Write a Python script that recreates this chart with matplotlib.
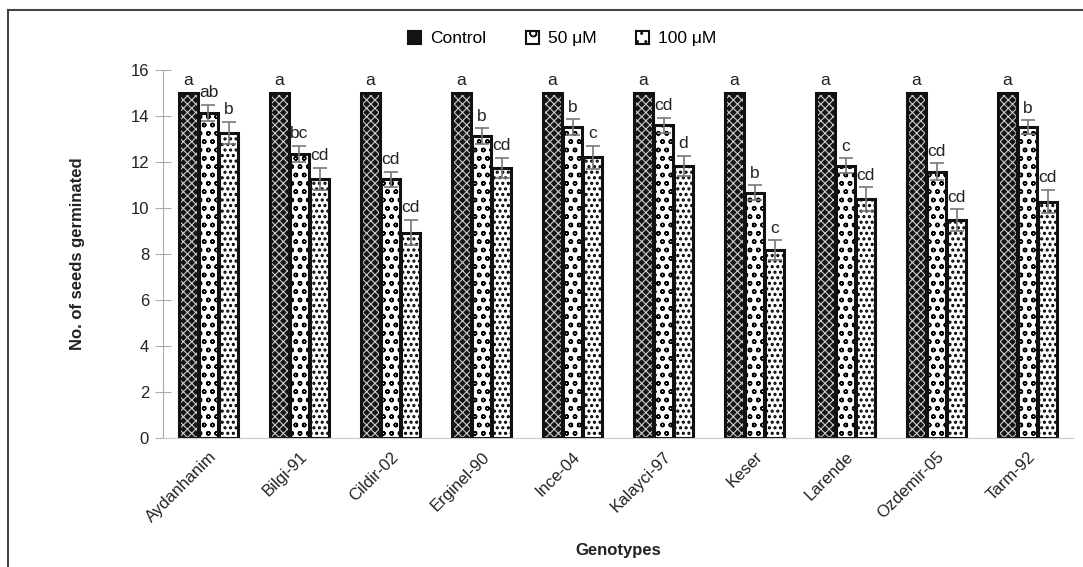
import numpy as np
import matplotlib
matplotlib.use('Agg')
import matplotlib.pyplot as plt
from matplotlib.lines import Line2D
from matplotlib.patches import Patch

plt.rcParams['font.family'] = ['Liberation Sans', 'DejaVu Sans']

genotypes = ['Aydanhanim', 'Bilgi-91', 'Cildir-02', 'Erginel-90', 'Ince-04',
             'Kalayci-97', 'Keser', 'Larende', 'Ozdemir-05', 'Tarm-92']
control = [15, 15, 15, 15, 15, 15, 15, 15, 15, 15]
uM50 = [14.15, 12.35, 11.25, 13.12, 13.52, 13.6, 10.66, 11.84, 11.58, 13.52]
uM100 = [13.27, 11.27, 8.93, 11.74, 12.2, 11.83, 8.17, 10.38, 9.48, 10.28]
err50 = [0.35, 0.35, 0.32, 0.35, 0.33, 0.33, 0.33, 0.32, 0.36, 0.3]
err100 = [0.48, 0.47, 0.55, 0.45, 0.5, 0.43, 0.42, 0.52, 0.46, 0.5]
let_control = ['a'] * 10
let50 = ['ab', 'bc', 'cd', 'b', 'b', 'cd', 'b', 'c', 'cd', 'b']
let100 = ['b', 'cd', 'cd', 'cd', 'c', 'd', 'c', 'cd', 'cd', 'cd']

fig = plt.figure(figsize=(10.83, 5.67), dpi=100)
ax = fig.add_axes([0.1505, 0.2275, 0.8403, 0.649])

x = np.arange(len(genotypes))
w = 0.2
pos = [x - 0.22, x, x + 0.22]
vals = [control, uM50, uM100]
errs = [None, err50, err100]
lets = [let_control, let50, let100]
faces = ['#151515', 'white', 'white']
hcols = ['#cccccc', 'black', 'black']
hatches = ['xxxx', 'oo', '...']
hlw = [0.8, 1.0, 1.5]

for p, v, f, hc, h, lw in zip(pos, vals, faces, hcols, hatches, hlw):
    with plt.rc_context({'hatch.linewidth': lw}):
        ax.bar(p, v, w, color=f, edgecolor=hc, hatch=h, linewidth=0)
    ax.bar(p, v, w, fill=False, edgecolor='#111111', linewidth=2.2)

for p, v, e in zip(pos[1:], vals[1:], errs[1:]):
    ax.errorbar(p, v, yerr=e, fmt='none', ecolor='#777777', capsize=5,
                elinewidth=1.2, capthick=1.2)

for p, v, e, l in zip(pos, vals, errs, lets):
    for i in range(len(genotypes)):
        top = v[i] + (e[i] if e is not None else 0) + 0.2
        ax.text(p[i], top, l[i], ha='center', va='bottom', fontsize=12.5,
                color='#222222')

ax.set_xlim(-0.5, len(genotypes) - 0.5)
ax.set_ylim(0, 16)
ax.set_yticks(np.arange(0, 17, 2))
ax.set_xticks(x)
ax.set_xticklabels(genotypes, rotation=45, ha='right', rotation_mode='anchor',
                   fontsize=12, color='#222222')
ax.tick_params(axis='x', length=0, pad=8)
ax.tick_params(axis='y', direction='inout', length=12, color='#aaaaaa',
               labelsize=12, labelcolor='#222222', pad=4)
for s in ['top', 'right']:
    ax.spines[s].set_visible(False)
ax.spines['left'].set_color('#aaaaaa')
ax.spines['bottom'].set_color('#cccccc')

ax.set_ylabel('No. of seeds germinated', fontsize=12, fontweight='bold',
              labelpad=33, color='#222222')
ax.set_xlabel('Genotypes', fontsize=12, fontweight='bold', color='#222222')
ax.xaxis.set_label_coords(0.5, -0.285)

handles = []
for f, hc, h, lw in zip(faces, hcols, ['xx', 'o', '..'], hlw):
    with plt.rc_context({'hatch.linewidth': lw}):
        handles.append(Patch(facecolor=f, edgecolor='#111111', hatch=h,
                             linewidth=1.5))
fig.legend(handles, ['Control', '50 μM', '100 μM'], loc='center',
           bbox_to_anchor=(0.519, 0.932), ncol=3, frameon=False, fontsize=12.5,
           handlelength=0.75, handleheight=0.75, handletextpad=0.5,
           columnspacing=2.3)

fx = 8 / 1083
fy = 1 - 10 / 567
fig.add_artist(Line2D([fx, fx], [0, fy], color='#444444', lw=1.5,
                      transform=fig.transFigure))
fig.add_artist(Line2D([fx, 1], [fy, fy], color='#444444', lw=1.5,
                      transform=fig.transFigure))

fig.savefig('out.png', dpi=100)
